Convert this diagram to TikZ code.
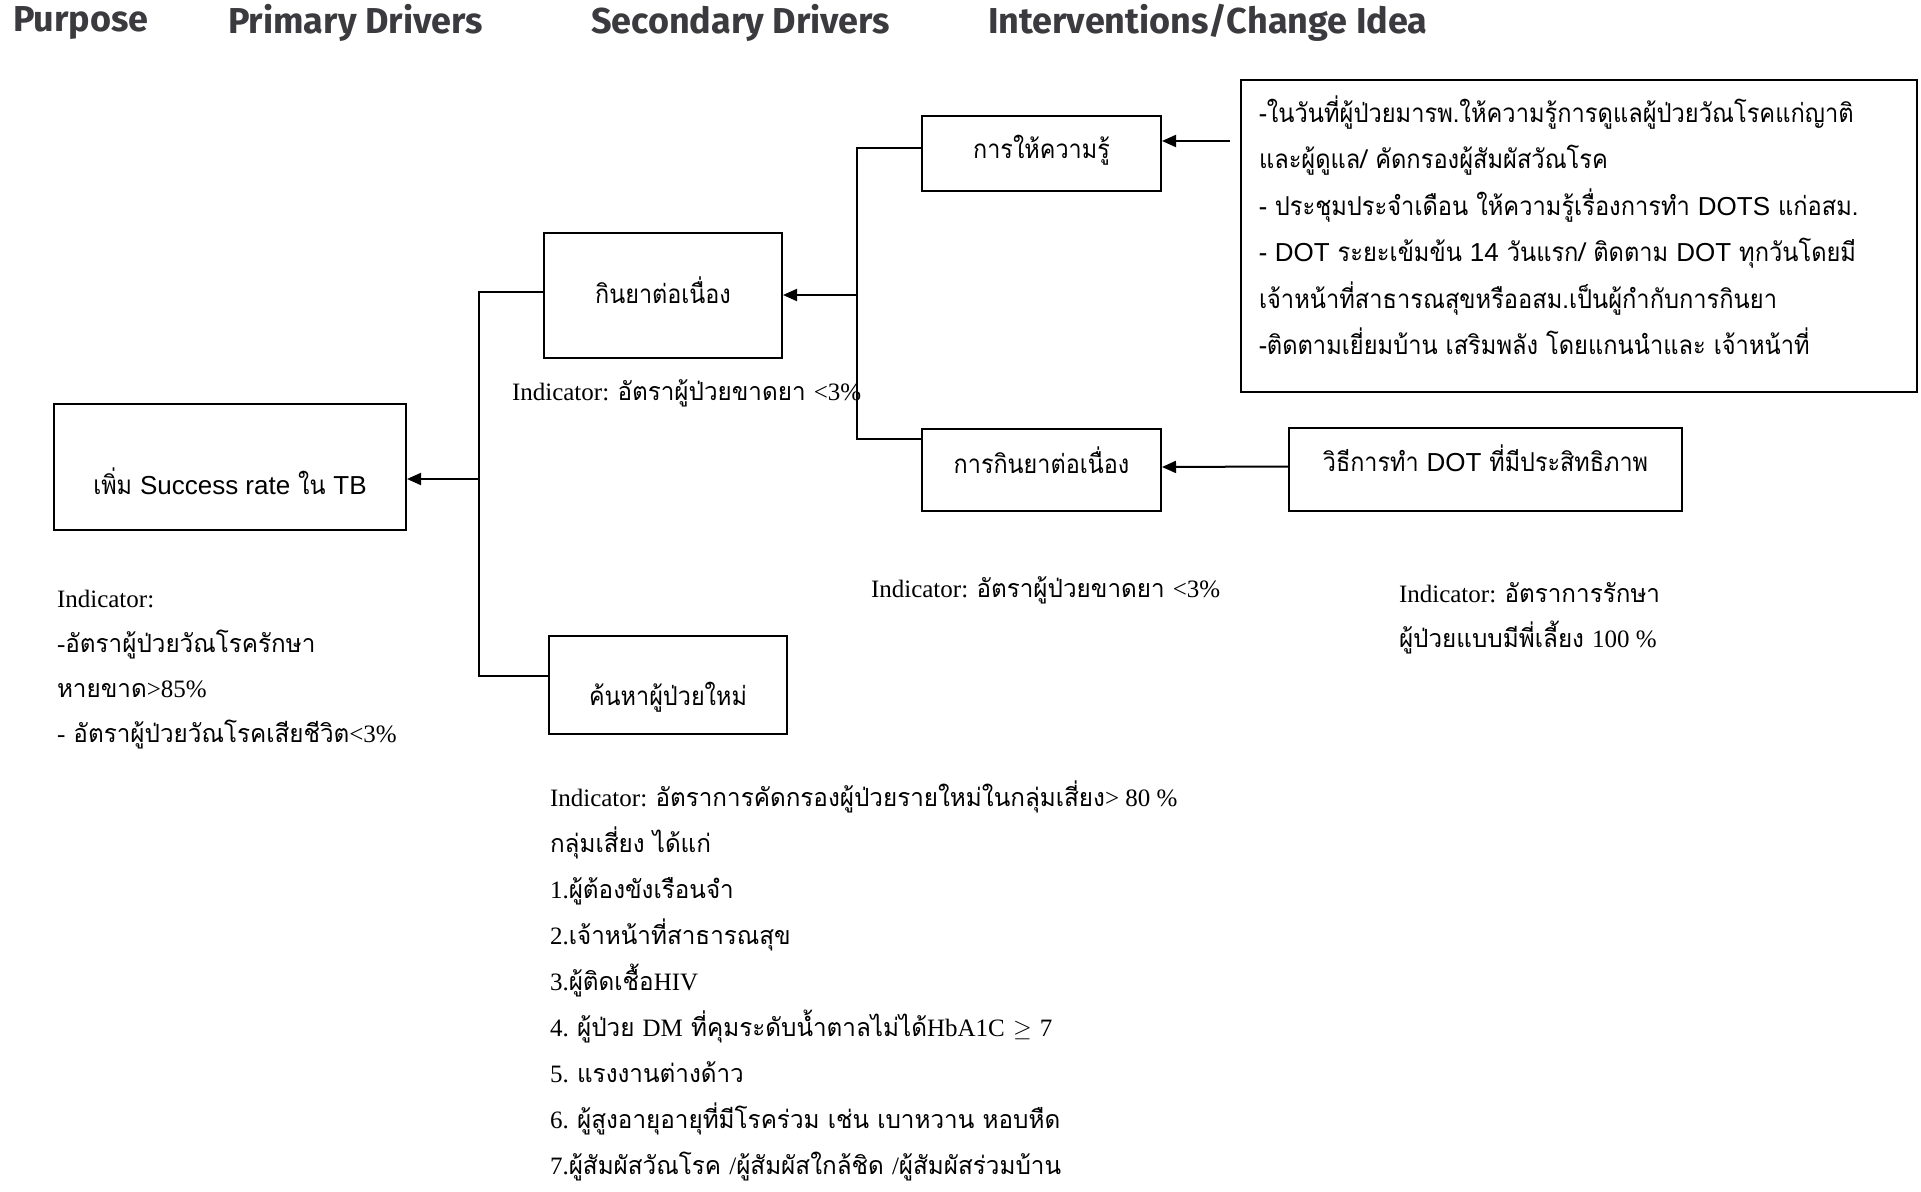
\documentclass[tikz,border=0pt]{standalone}
\usepackage{fontspec}
\setmainfont[Script=Thai,FakeStretch=0.9]{Loma}
\newfontfamily\interfont[Script=Thai,FakeStretch=0.91]{Loma}
\newfontfamily\indfont[Script=Thai,FakeStretch=0.97]{Loma}
\newfontfamily\headfont{Fira Sans}
\newfontfamily\latsans{Liberation Sans}
\newfontfamily\latserif{Liberation Serif}
\usetikzlibrary{arrows.meta}
\definecolor{headgray}{HTML}{3B3B3F}
\newcommand\movetext[2]{\raisebox{#1}[\height][\depth]{#2}}
\newcommand\ser[1]{{\latserif #1}}
\tikzset{every picture/.style={line width=1pt}}
\tikzset{
  box/.style={draw, inner sep=0pt, font=\fontsize{13}{15}\selectfont},
  head/.style={anchor=west, inner sep=0pt, text=headgray, font=\headfont\bfseries\fontsize{18}{20}\selectfont},
  note/.style={anchor=west, align=left, inner sep=0pt, font=\indfont\fontsize{12.5}{22.5}\selectfont},
}

\begin{document}
\begin{tikzpicture}[x=0.5pt,y=-0.5pt,>={Triangle[length=7pt,width=6pt]}]
				\useasboundingbox (0,0) rectangle (1921,1192);
				% หัวข้อ
				\node[head] (hpurpose) at (12,23) {Purpose};
				\node[head] (hprimary) at (227,23) {Primary Drivers};
				\node[head] (hsecondary) at (590,23) {Secondary Drivers};
				\node[head] (hinterv) at (987,23) {Interventions/Change Idea};
				% กล่อง
				\node[box,minimum width=176pt,minimum height=63pt] (purpose) at (230,467) {\movetext{-7pt}{เพิ่ม {\latsans Success rate} ใน {\latsans TB}}};
				\node[box,minimum width=119pt,minimum height=62.5pt] (prim1) at (663,295.5) {\movetext{2.5pt}{กินยาต่อเนื่อง}};
				\node[box,minimum width=119pt,minimum height=49pt] (prim3) at (668,685) {\movetext{-6pt}{ค้นหาผู้ป่วยใหม่}};
				\node[box,minimum width=119.5pt,minimum height=37.5pt] (sec1) at (1041.5,153.5) {\movetext{1.75pt}{การให้ความรู้}};
				\node[box,minimum width=119.5pt,minimum height=41pt] (sec2) at (1041.5,470) {\movetext{5pt}{การกินยาต่อเนื่อง}};
				\node[box,minimum width=338pt,minimum height=156pt] (inter1) at (1579,236) {};
				\node[box,minimum width=196.5pt,minimum height=41.5pt] (inter2) at (1485.5,469.5) {\movetext{5.5pt}{วิธีการทำ {\latsans DOT} ที่มีประสิทธิภาพ}};
				% ข้อความในกล่อง intervention
				\node[note,font=\interfont\fontsize{13}{23.25}\selectfont] (interText) at (1258,225) {-ในวันที่ผู้ป่วยมารพ.ให้ความรู้การดูแลผู้ป่วยวัณโรคแก่ญาติ\\
					และผู้ดูแล/ คัดกรองผู้สัมผัสวัณโรค\\
					- ประชุมประจำเดือน ให้ความรู้เรื่องการทำ {\latsans DOTS} แก่อสม.\\
					- {\latsans DOT} ระยะเข้มข้น {\latsans 14} วันแรก/ ติดตาม {\latsans DOT} ทุกวันโดยมี\\
					เจ้าหน้าที่สาธารณสุขหรืออสม.เป็นผู้กำกับการกินยา\\
					-ติดตามเยี่ยมบ้าน เสริมพลัง โดยแกนนำและ เจ้าหน้าที่};
				% indicators
				\node[note] (indPurpose) at (56,669.5) {\ser{Indicator:}\\ \ser{-}อัตราผู้ป่วยวัณโรครักษา\\ หายขาด\ser{>85\%}\\ \ser{-} อัตราผู้ป่วยวัณโรคเสียชีวิต\ser{<3\%}};
				\node[note] (indPrim1) at (511,393) {\ser{Indicator: }อัตราผู้ป่วยขาดยา \ser{<3\%}};
				\node[note,font=\indfont\fontsize{12.5}{23}\selectfont] (indPrim3) at (549,980.5) {\ser{Indicator: }อัตราการคัดกรองผู้ป่วยรายใหม่ในกลุ่มเสี่ยง\ser{> 80 \%}\\
					กลุ่มเสี่ยง ได้แก่\\
					\ser{1.}ผู้ต้องขังเรือนจำ\\
					\ser{2.}เจ้าหน้าที่สาธารณสุข\\
					\ser{3.}ผู้ติดเชื้อ\ser{HIV}\\
					\ser{4. }ผู้ป่วย \ser{DM} ที่คุมระดับน้ำตาลไม่ได้\ser{HbA1C} $\geq$ \ser{7}\\
					\ser{5. }แรงงานต่างด้าว\\
					\ser{6. }ผู้สูงอายุอายุที่มีโรคร่วม เช่น เบาหวาน หอบหืด\\
					\ser{7.}ผู้สัมผัสวัณโรค \ser{/}ผู้สัมผัสใกล้ชิด \ser{/}ผู้สัมผัสร่วมบ้าน};
				\node[note] (indSec) at (870,590) {\ser{Indicator: }อัตราผู้ป่วยขาดยา \ser{<3\%}};
				\node[note] (indInter) at (1398,618.5) {\ser{Indicator: }อัตราการรักษา\\ ผู้ป่วยแบบมีพี่เลี้ยง \ser{100 \%}};
				% เส้นเชื่อม
				\coordinate (trunkTop) at (479,292);
				\coordinate (trunkBot) at (479,676);
				\coordinate (trunkMid) at (479,479);
				\coordinate (branchTop) at (857,148);
				\coordinate (branchBot) at (857,439);
				\coordinate (branchMid) at (857,295);
				\coordinate (interTip) at (1230,141);
				\draw (prim1.west |- trunkTop)--(trunkTop)--(trunkBot)--(trunkBot -| prim3.west);
				\draw[->] (trunkMid)--(trunkMid -| purpose.east);
				\draw (sec1.west |- branchTop)--(branchTop)--(branchBot)--(branchBot -| sec2.west);
				\draw[->] (branchMid)--(branchMid -| prim1.east);
				\draw[->] (interTip)--(interTip -| sec1.east);
				\draw[->] ([yshift=1.5pt]inter2.west)--([yshift=1.5pt]sec2.east);
			\end{tikzpicture}
\end{document}
